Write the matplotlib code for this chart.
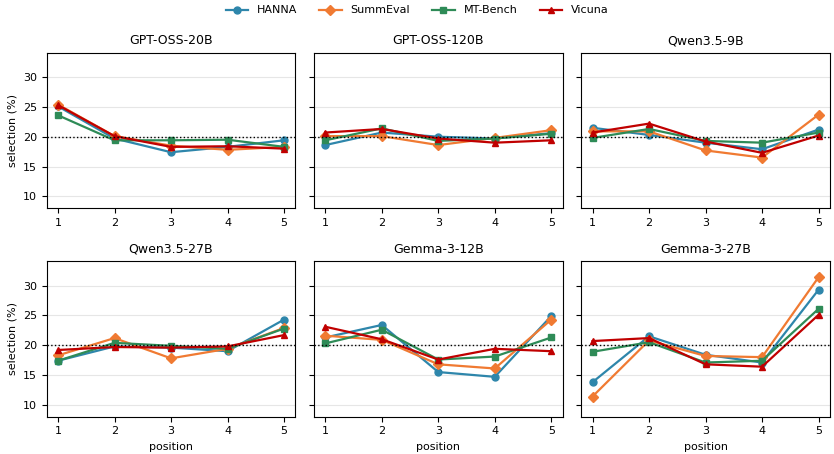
import matplotlib.pyplot as plt

positions = [1, 2, 3, 4, 5]
models = ["GPT-OSS-20B", "GPT-OSS-120B", "Qwen3.5-9B",
          "Qwen3.5-27B", "Gemma-3-12B", "Gemma-3-27B"]
datasets = ["HANNA", "SummEval", "MT-Bench", "Vicuna"]

# selection (%) per position, one list per model for each dataset
hanna = [
    [25.1, 19.7, 17.4, 18.3, 19.4],
    [18.6, 20.7, 20.0, 19.7, 20.6],
    [21.5, 20.3, 19.0, 17.9, 21.2],
    [17.4, 19.8, 19.6, 19.0, 24.3],
    [21.3, 23.4, 15.5, 14.7, 24.9],
    [13.8, 21.5, 18.4, 17.1, 29.3],
]
summeval = [
    [25.4, 20.1, 18.5, 17.8, 18.3],
    [20.1, 20.1, 18.6, 19.8, 21.1],
    [20.9, 20.9, 17.7, 16.5, 23.7],
    [18.3, 21.2, 17.8, 19.4, 22.9],
    [21.6, 20.9, 16.8, 16.1, 24.3],
    [11.4, 20.8, 18.2, 18.0, 31.4],
]
mtbench = [
    [23.6, 19.4, 19.4, 19.5, 18.3],
    [19.4, 21.4, 19.3, 19.7, 20.5],
    [19.8, 21.3, 19.3, 19.0, 20.7],
    [17.4, 20.4, 19.9, 19.4, 22.8],
    [20.3, 22.6, 17.6, 18.1, 21.3],
    [18.9, 20.5, 17.1, 17.4, 26.1],
]
vicuna = [
    [25.3, 20.1, 18.3, 18.4, 18.0],
    [20.7, 21.3, 19.7, 19.0, 19.4],
    [20.7, 22.2, 19.2, 17.3, 20.2],
    [19.2, 19.7, 19.6, 19.8, 21.7],
    [23.1, 21.0, 17.6, 19.4, 19.0],
    [20.7, 21.2, 16.8, 16.4, 25.1],
]

series = [hanna, summeval, mtbench, vicuna]
colors = ["#2E86AB", "#F07A32", "#2E8B57", "#C00000"]
markers = ["o", "D", "s", "^"]

fig, axes = plt.subplots(2, 3, figsize=(8.34, 4.54), dpi=100, sharey=True)
fig.subplots_adjust(left=0.056, right=0.995, top=0.884, bottom=0.082,
                    wspace=0.075, hspace=0.34)

for i, ax in enumerate(axes.flat):
    for name, vals, c, m in zip(datasets, series, colors, markers):
        ax.plot(positions, vals[i], color=c, marker=m, markersize=5,
                linewidth=1.6, label=name)
    ax.axhline(20, color="black", linestyle=":", linewidth=1.0)
    ax.set_title(models[i], fontsize=9)
    ax.set_ylim(8, 34.1)
    ax.set_xticks(positions)
    ax.set_yticks([10, 15, 20, 25, 30])
    ax.grid(axis="y", color="#e6e6e6", linewidth=0.8)
    ax.set_axisbelow(True)
    ax.tick_params(labelsize=8)
    if i % 3 == 0:
        ax.set_ylabel("selection (%)", fontsize=8)
    if i >= 3:
        ax.set_xlabel("position", fontsize=8)

handles, labels = axes[0, 0].get_legend_handles_labels()
fig.legend(handles, labels, loc="upper center", ncol=4, frameon=False,
           fontsize=8, bbox_to_anchor=(0.5, 1.01), columnspacing=2.0)

plt.savefig("out.png")
